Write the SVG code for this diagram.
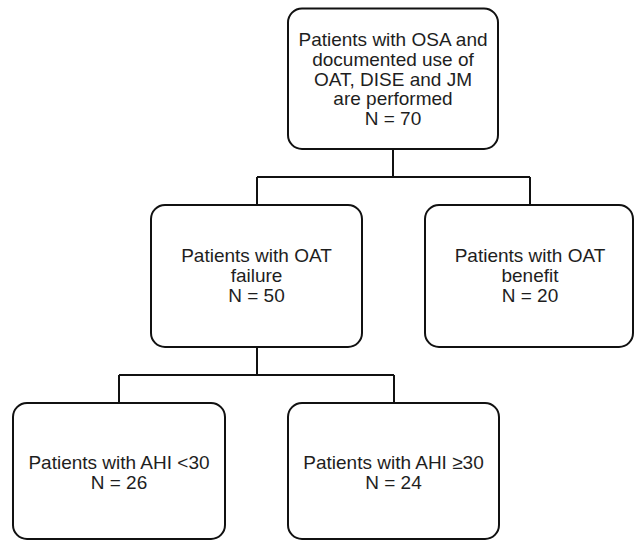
<svg xmlns="http://www.w3.org/2000/svg" width="635" height="541" viewBox="0 0 635 541">
<style>
.box{fill:#ffffff;stroke:#111111;stroke-width:2}
.t{font-family:"Liberation Sans",Arial,sans-serif;font-size:19px;fill:#1e1e1e;text-anchor:middle}
.c{fill:none;stroke:#111111;stroke-width:2}
</style>
<rect width="635" height="541" fill="#ffffff"/>
<g id="connectors">
<path class="c" d="M393,149 V177 M257,177 H530 M257,177 V205 M530,177 V205"/>
<path class="c" d="M257,347 V375 M119,375 H394 M119,375 V403 M394,375 V403"/>
</g>
<g id="node-top">
<rect class="box" x="288" y="8.5" width="210" height="140.5" rx="14"/>
<text class="t" x="393" y="46">Patients with OSA and</text>
<text class="t" x="393" y="66">documented use of</text>
<text class="t" x="393" y="85.5">OAT, DISE and JM</text>
<text class="t" x="393" y="105">are performed</text>
<text class="t" x="393" y="125">N = 70</text>
</g>
<g id="node-failure">
<rect class="box" x="151" y="205" width="211" height="142" rx="14"/>
<text class="t" x="256.5" y="262">Patients with OAT</text>
<text class="t" x="256.5" y="282">failure</text>
<text class="t" x="256.5" y="302">N = 50</text>
</g>
<g id="node-benefit">
<rect class="box" x="425" y="205" width="208" height="142" rx="14"/>
<text class="t" x="530" y="262">Patients with OAT</text>
<text class="t" x="530" y="282">benefit</text>
<text class="t" x="530" y="302">N = 20</text>
</g>
<g id="node-ahi-low">
<rect class="box" x="13" y="403" width="212" height="136" rx="14"/>
<text class="t" x="119" y="469">Patients with AHI &lt;30</text>
<text class="t" x="119" y="489">N = 26</text>
</g>
<g id="node-ahi-high">
<rect class="box" x="288" y="403" width="211" height="136" rx="14"/>
<text class="t" x="393.5" y="469">Patients with AHI ≥30</text>
<text class="t" x="393.5" y="489">N = 24</text>
</g>
</svg>
